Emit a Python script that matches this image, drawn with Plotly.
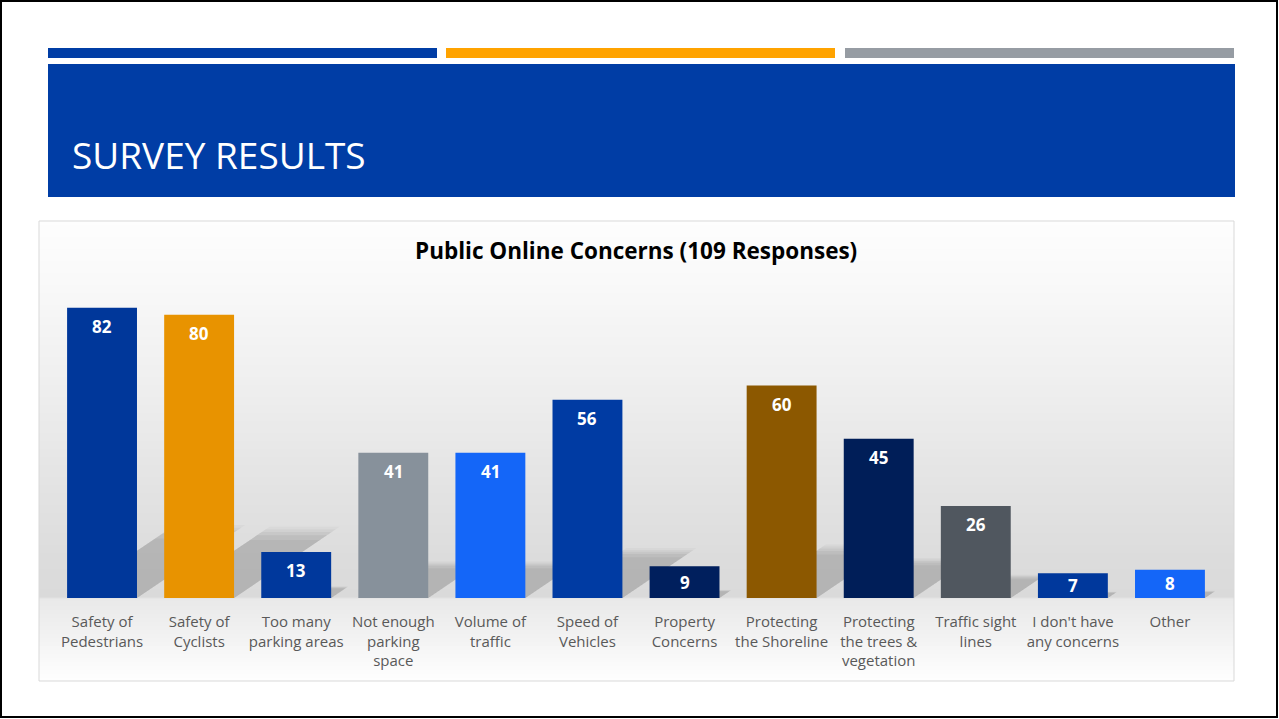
import plotly.graph_objects as go

# ---- data ----
categories = [
    "Safety of<br>Pedestrians", "Safety of<br>Cyclists", "Too many<br>parking areas",
    "Not enough<br>parking<br>space", "Volume of<br>traffic", "Speed of<br>Vehicles",
    "Property<br>Concerns", "Protecting<br>the Shoreline", "Protecting<br>the trees &<br>vegetation",
    "Traffic sight<br>lines", "I don't have<br>any concerns", "Other",
]
responses = [82, 80, 13, 41, 41, 56, 9, 60, 45, 26, 7, 8]
bar_colors = [
    "#00379A", "#E89300", "#00389C", "#87919B", "#1466F8", "#003BA3",
    "#001F5D", "#8C5800", "#001E58", "#50575F", "#00389C", "#1466F8",
]

W, H = 1279, 719
FONT = "Open Sans"


def px(x):
    return x / W


def py(y):
    return 1 - y / H


# plot area geometry (pixels)
X_LEFT, X_RIGHT = 53.5, 1218.5
BASE_Y = 598
Y_MAX = 90
UNIT_PX = 3.54
Y_TOP = BASE_Y - Y_MAX * UNIT_PX
BAR_HALF = 0.36

fig = go.Figure()

fig.add_trace(go.Bar(
    x=list(range(len(categories))), y=responses,
    marker=dict(color=bar_colors, line=dict(width=0)),
    width=2 * BAR_HALF, showlegend=False,
    hovertemplate="%{y}<extra></extra>",
))

# value labels inside the bar tops
annotations = []
for i, v in enumerate(responses):
    shift = min(19, v * UNIT_PX / 2)
    annotations.append(dict(
        x=i, y=v, xref="x", yref="y", text=f"<b>{v}</b>", showarrow=False,
        yanchor="middle", yshift=-shift,
        font=dict(family=FONT, size=17, color="white"),
    ))

annotations.append(dict(
    x=px(70), y=py(155), xref="paper", yref="paper", xanchor="left", yanchor="middle",
    text="SURVEY RESULTS", showarrow=False,
    font=dict(family=FONT, size=37, color="white"),
))
annotations.append(dict(
    x=px(636), y=py(250), xref="paper", yref="paper", xanchor="center", yanchor="middle",
    text="<b>Public Online Concerns (109 Responses)</b>", showarrow=False,
    font=dict(family=FONT, size=22.5, color="black"),
))

shapes = []

# chart box background gradient (light top, grey floor line, fading below)
stops = [(221, 254), (300, 247), (400, 237), (480, 228), (560, 220), (597, 218),
         (599, 233), (630, 240), (655, 248), (681, 254)]


def shade(y):
    for (y0, c0), (y1, c1) in zip(stops, stops[1:]):
        if y0 <= y <= y1:
            t = (y - y0) / (y1 - y0)
            return c0 + (c1 - c0) * t
    return 255


y = 221
while y < 681:
    step = 1 if 594 <= y < 602 else 4
    y2 = min(y + step, 681)
    c = int(round(shade((y + y2) / 2)))
    shapes.append(dict(type="rect", xref="paper", yref="paper", layer="below",
                       x0=px(39), x1=px(1234), y0=py(y2 + 0.5), y1=py(y),
                       fillcolor=f"rgb({c},{c},{c})", line=dict(width=0)))
    y = y2
shapes.append(dict(type="rect", xref="paper", yref="paper", layer="below",
                   x0=px(39), x1=px(1234), y0=py(681), y1=py(221),
                   fillcolor="rgba(0,0,0,0)", line=dict(color="#D9D9D9", width=1)))

# soft cast shadows behind the bars, sized from each value
for i, v in enumerate(responses):
    h = 0.233 * v
    dx = 0.01258 * v
    for scale, alpha in [(1.08, 0.04), (1.04, 0.05), (1.0, 0.06), (0.95, 0.07), (0.88, 0.06)]:
        hh = h * scale
        dd = dx * scale
        path = (f"M {i - BAR_HALF},0 L {i + BAR_HALF},0 "
                f"L {i + BAR_HALF + dd},{hh} L {i - BAR_HALF + dd},{hh} Z")
        shapes.append(dict(type="path", xref="x", yref="y", layer="below", path=path,
                           fillcolor=f"rgba(70,70,70,{alpha})", line=dict(width=0)))

# header stripes and banner
for x0, x1, col in [(48, 437, "#003DA5"), (446, 835, "#FFA300"), (845, 1234, "#969CA3")]:
    shapes.append(dict(type="rect", xref="paper", yref="paper", layer="below",
                       x0=px(x0), x1=px(x1), y0=py(58), y1=py(48),
                       fillcolor=col, line=dict(width=0)))
shapes.append(dict(type="rect", xref="paper", yref="paper", layer="below",
                   x0=px(48), x1=px(1235), y0=py(197), y1=py(64),
                   fillcolor="#003DA5", line=dict(width=0)))

# page frame
shapes.append(dict(type="rect", xref="paper", yref="paper", layer="above",
                   x0=px(1), x1=px(1277), y0=py(717), y1=py(1),
                   fillcolor="rgba(0,0,0,0)", line=dict(color="black", width=2)))

fig.update_layout(
    width=W, height=H, margin=dict(l=0, r=0, t=0, b=0),
    paper_bgcolor="white", plot_bgcolor="rgba(0,0,0,0)",
    showlegend=False, bargap=0.28,
    annotations=annotations, shapes=shapes,
    xaxis=dict(
        domain=[px(X_LEFT), px(X_RIGHT)], range=[-0.5, len(categories) - 0.5],
        tickvals=list(range(len(categories))), ticktext=categories,
        showgrid=False, zeroline=False, showline=False, ticks="",
        ticklabelstandoff=13,
        tickfont=dict(family=FONT, size=15, color="#595959"),
        fixedrange=True,
    ),
    yaxis=dict(
        domain=[py(BASE_Y), py(Y_TOP)], range=[0, Y_MAX],
        visible=False, showgrid=False, zeroline=False, fixedrange=True,
    ),
)

fig.write_html("out.html")
